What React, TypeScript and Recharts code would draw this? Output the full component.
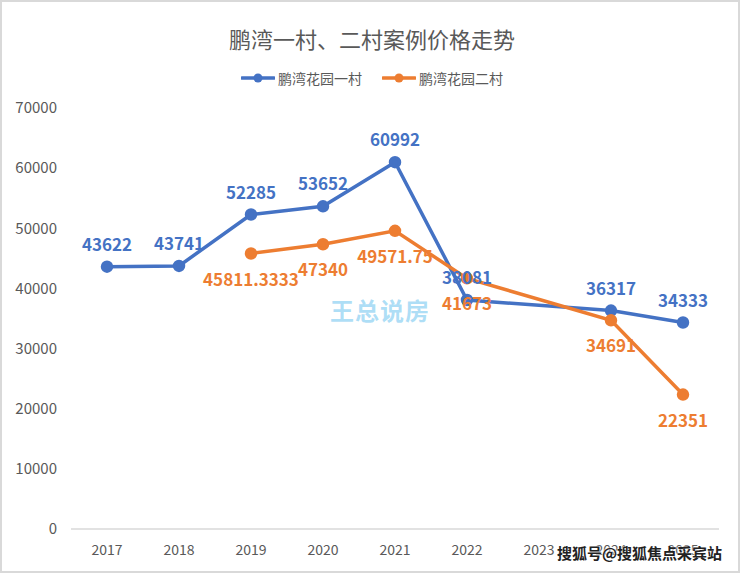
import React from 'react';
import {
  LineChart,
  Line,
  XAxis,
  YAxis,
  LabelList,
} from 'recharts';

const years = ['2017', '2018', '2019', '2020', '2021', '2022', '2023', '2024', '2025'];
const village1 = [43622, 43741, 52285, 53652, 60992, 38081, null, 36317, 34333];
const village2 = [null, null, 45811.3333, 47340, 49571.75, 41673, null, 34691, 22351];
const yTicks = [0, 10000, 20000, 30000, 40000, 50000, 60000, 70000];
const seriesNames = ['鹏湾花园一村', '鹏湾花园二村'];

const data = years.map((year, i) => ({
  year,
  v1: village1[i],
  v2: village2[i],
}));

const FONT = '"Noto Sans CJK SC", "Noto Sans", sans-serif';
const BLUE = '#4472C4';
const ORANGE = '#ED7D31';
const GREY = '#595959';

function LegendItem({ color, label }: { color: string; label: string }) {
  return (
    <span style={{ display: 'inline-flex', alignItems: 'center', margin: '0 10px' }}>
      <svg width={34} height={12} style={{ marginRight: 3 }}>
        <line x1={1} y1={6} x2={33} y2={6} stroke={color} strokeWidth={3.5} strokeLinecap="round" />
        <circle cx={17} cy={6} r={4.5} fill={color} />
      </svg>
      <span style={{ color: GREY }}>{label}</span>
    </span>
  );
}

export default function App() {
  return (
    <div
      style={{
        position: 'absolute',
        left: 0,
        top: 0,
        width: 740,
        height: 573,
        background: '#fff',
        border: '2px solid #d9d9d9',
        boxSizing: 'border-box',
        fontFamily: FONT,
      }}
    >
      <div
        style={{
          position: 'absolute',
          left: 0,
          top: 21,
          width: 740,
          textAlign: 'center',
          fontSize: 22,
          color: GREY,
          lineHeight: '30px',
        }}
      >
        鹏湾一村、二村案例价格走势
      </div>
      <div
        style={{
          position: 'absolute',
          left: 0,
          top: 66,
          width: 740,
          textAlign: 'center',
          fontSize: 14,
          lineHeight: '20px',
        }}
      >
        <LegendItem color={BLUE} label={seriesNames[0]} />
        <LegendItem color={ORANGE} label={seriesNames[1]} />
      </div>
      <div style={{ position: 'absolute', left: -2, top: -2 }}>
        <LineChart
          width={740}
          height={573}
          data={data}
          margin={{ top: 108, right: 21, bottom: 14, left: 0 }}
        >
          <XAxis
            dataKey="year"
            height={30}
            padding={{ left: 36, right: 36 }}
            tickLine={false}
            axisLine={{ stroke: '#d9d9d9', strokeWidth: 1.5 }}
            tick={{ fontSize: 14, fill: GREY, fontFamily: FONT }}
            tickMargin={10}
          />
          <YAxis
            width={71}
            domain={[0, 70000]}
            ticks={yTicks}
            axisLine={false}
            tickLine={false}
            tickMargin={8}
            tick={{ fontSize: 15, fill: GREY, fontFamily: FONT }}
          />
          <Line
            type="linear"
            dataKey="v1"
            name={seriesNames[0]}
            stroke={BLUE}
            strokeWidth={3.5}
            dot={{ r: 4.5, fill: BLUE, stroke: BLUE }}
            connectNulls
            isAnimationActive={false}
          >
            <LabelList
              dataKey="v1"
              position="top"
              offset={16}
              fill={BLUE}
              fontSize={17}
              fontWeight="bold"
              fontFamily={FONT}
            />
          </Line>
          <Line
            type="linear"
            dataKey="v2"
            name={seriesNames[1]}
            stroke={ORANGE}
            strokeWidth={3.5}
            dot={{ r: 4.5, fill: ORANGE, stroke: ORANGE }}
            connectNulls
            isAnimationActive={false}
          >
            <LabelList
              dataKey="v2"
              position="bottom"
              offset={20}
              fill={ORANGE}
              fontSize={17}
              fontWeight="bold"
              fontFamily={FONT}
            />
          </Line>
        </LineChart>
      </div>
      <div
        style={{
          position: 'absolute',
          left: 328,
          top: 290,
          fontSize: 24,
          fontWeight: 'bold',
          color: 'rgba(120, 200, 240, 0.6)',
          letterSpacing: 1,
        }}
      >
        王总说房
      </div>
      <div
        style={{
          position: 'absolute',
          right: 16,
          bottom: 8,
          fontSize: 15,
          fontWeight: 'bold',
          color: '#222',
          textShadow: '0 0 2px #fff, 0 0 2px #fff',
        }}
      >
        搜狐号@搜狐焦点采宾站
      </div>
    </div>
  );
}
